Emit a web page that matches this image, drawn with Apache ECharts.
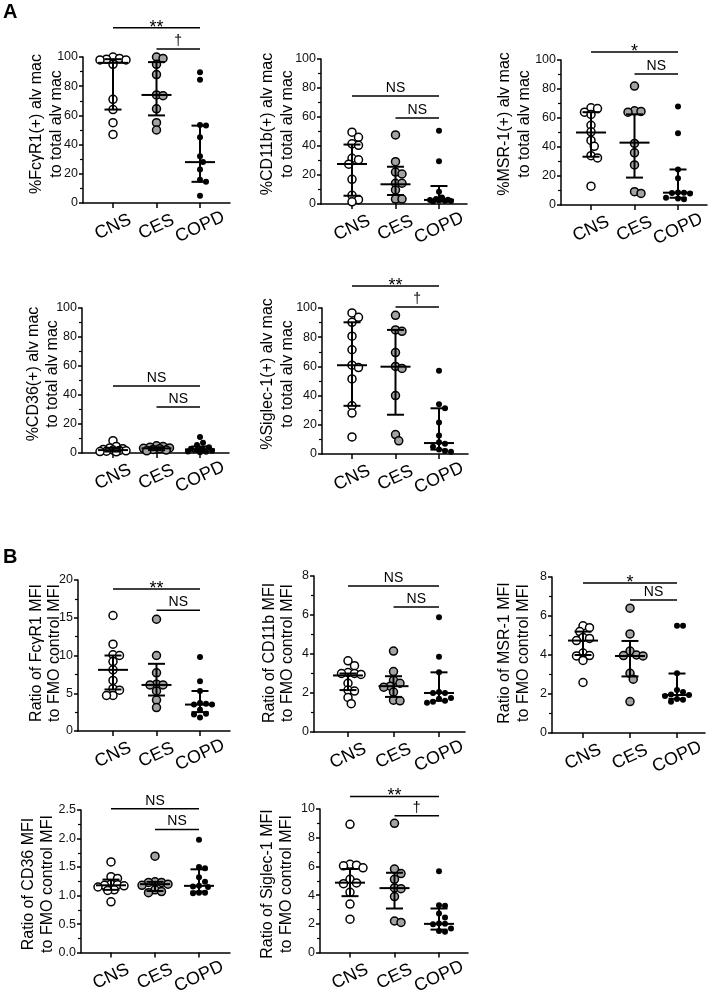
<!DOCTYPE html>
<html><head><meta charset="utf-8">
<script src="https://cdn.jsdelivr.net/npm/echarts@6/dist/echarts.min.js"></script>
<style>html,body{margin:0;padding:0;background:#fff}#c{width:709px;height:997px}</style>
</head><body><div id="c"></div>
<script>
const groups = ['CNS', 'CES', 'COPD'];

// ---- Panel A: % positive alveolar macrophages ----
const a1Title = ['%FcγR1(+) alv mac', 'to total alv mac'];
const a1CNS  = [100, 99, 98.5, 98, 98, 95, 71, 64, 55, 47];
const a1CES  = [100, 99, 95, 88, 74, 73.5, 64.5, 55, 50];
const a1COPD = [89.5, 84.5, 53.5, 53, 45, 32, 28, 23, 16, 14.5, 5];
const a1Median = [96, 74, 28], a1Q1 = [64, 60, 14.5], a1Q3 = [98.5, 96.5, 53];
const a1Bracket = [120, 105.5], a1Sig = ['**', '†'];

const a2Title = ['%CD11b(+) alv mac', 'to total alv mac'];
const a2CNS  = [49.5, 46, 41.5, 40.5, 31.5, 30.5, 27.5, 17, 6, 3, 1.5];
const a2CES  = [47.6, 29.2, 22, 20.7, 14.3, 14.3, 9.7, 3.4, 3.4];
const a2COPD = [50.5, 29.5, 8.5, 4.5, 3.5, 3, 2.8, 2.5, 2.2, 2, 1.8];
const a2Median = [27.6, 13.6, 2.8], a2Q1 = [5.7, 6.2, 1.8], a2Q3 = [41, 25.7, 12.4];
const a2Bracket = [74.5, 59.3], a2Sig = ['NS', 'NS'];

const a3Title = ['%MSR-1(+) alv mac', 'to total alv mac'];
const a3CNS  = [67, 66.5, 64, 62.5, 55, 50.5, 44.5, 40.5, 34, 32.5, 13];
const a3CES  = [82, 65, 64.5, 64, 42.5, 36, 27.6, 9.2, 8];
const a3COPD = [68, 49.4, 24.5, 18.4, 8.7, 8.5, 8.3, 8, 5, 4.5, 4];
const a3Median = [50, 43, 8.5], a3Q1 = [33.3, 18.9, 5], a3Q3 = [64, 62.5, 24.5];
const a3Bracket = [105.5, 90.3], a3Sig = ['*', 'NS'];

const a4Title = ['%CD36(+) alv mac', 'to total alv mac'];
const a4CNS  = [8.5, 4.5, 3.5, 3, 2.5, 2, 1.8, 1.5, 1.2, 1, 0.8];
const a4CES  = [5, 4.5, 4, 3.5, 3.2, 3, 2.5, 2, 1.5];
const a4COPD = [11, 7, 5.5, 4, 3, 2.5, 2, 1.5, 1, 0.8, 0.5];
const a4Median = [2, 3.2, 2.5], a4Q1 = [1, 2, 1], a4Q3 = [3.5, 4, 4.5];
const a4Bracket = [46.2, 31.7], a4Sig = ['NS', 'NS'];

const a5Title = ['%Siglec-1(+) alv mac', 'to total alv mac'];
const a5CNS  = [96.6, 93.6, 90.2, 80.7, 71.4, 60.8, 59.2, 51.4, 33, 28, 11.7];
const a5CES  = [95, 85, 84, 69.5, 60, 58.6, 40, 13.3, 9];
const a5COPD = [57, 34, 31.3, 21.6, 12.6, 8, 7, 5, 3, 2, 1.5];
const a5Median = [60.8, 59.8, 7.5], a5Q1 = [33, 26.9, 3], a5Q3 = [90.2, 85, 31.3];
const a5Bracket = [115, 100.7], a5Sig = ['**', '†'];

// ---- Panel B: MFI ratio to FMO control ----
const b1Title = ['Ratio of FcγR1 MFI', 'to FMO control MFI'];
const b1CNS  = [15.3, 11.5, 10.1, 10, 9.2, 8.1, 6.7, 5.6, 5.4, 4.7, 4.7];
const b1CES  = [14.8, 10, 7.7, 6.2, 6.1, 6.1, 5.3, 4.1, 3.1];
const b1COPD = [9.8, 6.6, 5.3, 3.7, 3.6, 3.5, 3.5, 2.8, 2.3, 2.2, 1.8];
const b1Median = [8.1, 6.1, 3.5], b1Q1 = [5.5, 4.7, 2.5], b1Q3 = [10, 8.9, 5.3];
const b1Bracket = [18.8, 16], b1Sig = ['**', 'NS'];

const b2Title = ['Ratio of CD11b MFI', 'to FMO control MFI'];
const b2CNS  = [3.65, 3.4, 3.05, 3.0, 3.0, 2.95, 2.5, 2.15, 2.1, 1.77, 1.45];
const b2CES  = [4.15, 3.1, 2.65, 2.5, 2.35, 2.3, 2.05, 1.63, 1.6];
const b2COPD = [5.88, 3.86, 3.06, 2.05, 2.0, 2.0, 1.75, 1.7, 1.6, 1.55, 1.5];
const b2Median = [2.9, 2.35, 2.0], b2Q1 = [2.15, 1.8, 1.6], b2Q3 = [3.0, 2.86, 3.06];
const b2Bracket = [7.49, 6.41], b2Sig = ['NS', 'NS'];

const b3Title = ['Ratio of MSR-1 MFI', 'to FMO control MFI'];
const b3CNS  = [5.5, 5.4, 5.2, 4.9, 4.85, 4.74, 4.1, 3.97, 3.95, 3.72, 2.59];
const b3CES  = [6.4, 5.08, 4.2, 4.0, 3.97, 3.95, 3.06, 2.76, 1.61];
const b3COPD = [5.5, 5.5, 3.07, 2.2, 2.1, 1.97, 1.95, 1.9, 1.75, 1.7, 1.6];
const b3Median = [4.74, 3.95, 1.95], b3Q1 = [4.0, 2.9, 1.75], b3Q3 = [5.2, 4.72, 3.05];
const b3Bracket = [7.69, 6.82], b3Sig = ['*', 'NS'];

const b4Title = ['Ratio of CD36 MFI', 'to FMO control MFI'];
const b4CNS  = [1.59, 1.33, 1.3, 1.2, 1.19, 1.18, 1.17, 1.15, 1.1, 1.09, 0.89];
const b4CES  = [1.69, 1.24, 1.23, 1.23, 1.2, 1.18, 1.1, 1.07, 1.05];
const b4COPD = [1.98, 1.5, 1.48, 1.32, 1.24, 1.17, 1.16, 1.15, 1.05, 1.05, 1.04];
const b4Median = [1.18, 1.2, 1.17], b4Q1 = [1.1, 1.08, 1.07], b4Q3 = [1.28, 1.24, 1.46];
const b4Bracket = [2.52, 2.16], b4Sig = ['NS', 'NS'];

const b5Title = ['Ratio of Siglec-1 MFI', 'to FMO control MFI'];
const b5CNS  = [8.93, 6.15, 6.09, 6.04, 5.9, 5.1, 4.85, 4.8, 4.2, 3.38, 2.33];
const b5CES  = [9.0, 5.82, 5.5, 5.1, 4.5, 4.45, 3.9, 2.2, 2.1];
const b5COPD = [5.67, 3.3, 3.27, 2.73, 2.44, 2.02, 2.0, 1.98, 1.67, 1.5, 1.45];
const b5Median = [4.87, 4.49, 2.0], b5Q1 = [3.93, 3.07, 1.6], b5Q3 = [5.82, 5.56, 3.07];
const b5Bracket = [10.87, 9.53], b5Sig = ['**', '†'];

// ---- assemble panels (data) ----
const panelData = [
  {t: a1Title, g: [a1CNS, a1CES, a1COPD], med: a1Median, q1: a1Q1, q3: a1Q3, br: a1Bracket, sig: a1Sig, ymax: 100, step: 20, dec: 0},
  {t: a2Title, g: [a2CNS, a2CES, a2COPD], med: a2Median, q1: a2Q1, q3: a2Q3, br: a2Bracket, sig: a2Sig, ymax: 100, step: 20, dec: 0},
  {t: a3Title, g: [a3CNS, a3CES, a3COPD], med: a3Median, q1: a3Q1, q3: a3Q3, br: a3Bracket, sig: a3Sig, ymax: 100, step: 20, dec: 0},
  {t: a4Title, g: [a4CNS, a4CES, a4COPD], med: a4Median, q1: a4Q1, q3: a4Q3, br: a4Bracket, sig: a4Sig, ymax: 100, step: 20, dec: 0},
  {t: a5Title, g: [a5CNS, a5CES, a5COPD], med: a5Median, q1: a5Q1, q3: a5Q3, br: a5Bracket, sig: a5Sig, ymax: 100, step: 20, dec: 0},
  {t: b1Title, g: [b1CNS, b1CES, b1COPD], med: b1Median, q1: b1Q1, q3: b1Q3, br: b1Bracket, sig: b1Sig, ymax: 20, step: 5, dec: 0},
  {t: b2Title, g: [b2CNS, b2CES, b2COPD], med: b2Median, q1: b2Q1, q3: b2Q3, br: b2Bracket, sig: b2Sig, ymax: 8, step: 2, dec: 0},
  {t: b3Title, g: [b3CNS, b3CES, b3COPD], med: b3Median, q1: b3Q1, q3: b3Q3, br: b3Bracket, sig: b3Sig, ymax: 8, step: 2, dec: 0},
  {t: b4Title, g: [b4CNS, b4CES, b4COPD], med: b4Median, q1: b4Q1, q3: b4Q3, br: b4Bracket, sig: b4Sig, ymax: 2.5, step: 0.5, dec: 1},
  {t: b5Title, g: [b5CNS, b5CES, b5COPD], med: b5Median, q1: b5Q1, q3: b5Q3, br: b5Bracket, sig: b5Sig, ymax: 10, step: 2, dec: 0}
];

// ---- layout (pixels): axis left, axis right, first cat x, last cat x, top, bottom, title line xs, title center y ----
const layout = [
  {L: 83,  R: 230, c1: 113, c3: 200, top: 57,  bot: 203, tx: [37, 57],   ty: 124},
  {L: 321, R: 467, c1: 352, c3: 439, top: 59,  bot: 204, tx: [268, 288], ty: 124},
  {L: 561, R: 707, c1: 591, c3: 678, top: 60,  bot: 205, tx: [505, 525], ty: 124},
  {L: 82,  R: 229, c1: 113, c3: 200, top: 308, bot: 453, tx: [34, 53],   ty: 374},
  {L: 322, R: 468, c1: 352, c3: 439, top: 308, bot: 454, tx: [268, 288], ty: 374},
  {L: 78,  R: 230, c1: 113, c3: 200, top: 580, bot: 731, tx: [37, 55],   ty: 653},
  {L: 314, R: 465, c1: 348, c3: 439, top: 576, bot: 732, tx: [270, 288], ty: 653},
  {L: 552, R: 705, c1: 583, c3: 677, top: 577, bot: 733, tx: [505, 524], ty: 653},
  {L: 81,  R: 230, c1: 111, c3: 199, top: 810, bot: 958, tx: [29, 48],   ty: 884},
  {L: 320, R: 468, c1: 350, c3: 439, top: 809, bot: 959, tx: [268, 287], ty: 884}
];

const FONT = '"Liberation Sans", Arial, Helvetica, sans-serif';
const groupStyle = [
  {color: '#ffffff', borderColor: '#000', borderWidth: 1.5, size: 8, dmin: 6.5},
  {color: '#a3a3a3', borderColor: '#000', borderWidth: 1.5, size: 8, dmin: 6.5},
  {color: '#000000', borderColor: '#000', borderWidth: 0, size: 6, dmin: 6}
];
const MAX_OFF = 14;

function swarm(vals, kx, ky, dmin) {
  const order = vals.map((v, i) => ({v, i})).sort((a, b) => b.v - a.v);
  const placed = [];
  const out = new Array(vals.length);
  const half = dmin * 0.5;
  const kmax = Math.floor(MAX_OFF / half);
  for (const p of order) {
    const py = -p.v * ky;
    let best = 0, bestD = -1, found = false;
    for (let k = 0; k <= 2 * kmax; k++) {
      const n = Math.ceil(k / 2);
      const off = (k === 0 ? 0 : (k % 2 ? n : -n)) * half;
      let md = Infinity;
      for (const q of placed) md = Math.min(md, Math.hypot(q[0] - off, q[1] - py));
      if (md >= dmin) { best = off; found = true; break; }
      if (md > bestD) { bestD = md; best = off; }
    }
    placed.push([best, py]);
    out[p.i] = best / kx;
  }
  return out;
}

const grid = [], xAxis = [], yAxis = [], series = [], graphic = [];

panelData.forEach((pd, i) => {
  const g = layout[i];
  const s = (g.c3 - g.c1) / 2;
  const xmin = 1 - (g.c1 - g.L) / s;
  const xmax = 3 + (g.R - g.c3) / s;
  const ky = (g.bot - g.top) / pd.ymax;
  grid.push({left: g.L, top: g.top, width: g.R - g.L, height: g.bot - g.top, containLabel: false});
  xAxis.push({
    gridIndex: i, type: 'value', min: xmin, max: xmax,
    axisLine: {show: true, lineStyle: {color: '#000', width: 1.5}},
    axisTick: {show: true, customValues: [1, 2, 3], length: 5, lineStyle: {color: '#000', width: 1.5}},
    axisLabel: {show: true, customValues: [1, 2, 3], formatter: v => groups[Math.round(v) - 1] || '',
      rotate: 25, align: 'center', verticalAlign: 'middle', margin: 24,
      fontSize: 18, color: '#000', fontFamily: FONT},
    splitLine: {show: false}, minorTick: {show: false}
  });
  yAxis.push({
    gridIndex: i, type: 'value', min: 0, max: pd.ymax, interval: pd.step,
    axisLine: {show: true, lineStyle: {color: '#000', width: 1.5}},
    axisTick: {show: true, length: 4, lineStyle: {color: '#000', width: 1.5}},
    minorTick: {show: true, splitNumber: 2, length: 3, lineStyle: {color: '#000', width: 1.2}},
    axisLabel: {fontSize: 12.5, color: '#111', margin: 5, fontFamily: FONT, formatter: v => v.toFixed(pd.dec)},
    splitLine: {show: false}
  });
  pd.g.forEach((vals, gi) => {
    const st = groupStyle[gi];
    const off = swarm(vals, s, ky, st.dmin);
    series.push({
      type: 'scatter', xAxisIndex: i, yAxisIndex: i, symbol: 'circle', symbolSize: st.size,
      data: vals.map((v, k) => [gi + 1 + off[k], v]),
      itemStyle: {color: st.color, borderColor: st.borderColor, borderWidth: st.borderWidth, opacity: 1},
      emphasis: {disabled: true}, silent: true, z: 2
    });
  });
  series.push({
    type: 'custom', xAxisIndex: i, yAxisIndex: i, clip: false, silent: true, z: 3,
    encode: {x: 0, y: [1, 2, 3]},
    data: groups.map((_, gi) => [gi + 1, pd.med[gi], pd.q1[gi], pd.q3[gi]]),
    renderItem: (params, api) => {
      const x = api.value(0);
      const pm = api.coord([x, api.value(1)]);
      const pl = api.coord([x, api.value(2)]);
      const ph = api.coord([x, api.value(3)]);
      const st = {stroke: '#000', lineWidth: 2};
      return {type: 'group', children: [
        {type: 'line', shape: {x1: pm[0], y1: pl[1], x2: pm[0], y2: ph[1]}, style: st},
        {type: 'line', shape: {x1: pm[0] - 15, y1: pm[1], x2: pm[0] + 15, y2: pm[1]}, style: st},
        {type: 'line', shape: {x1: pm[0] - 8.5, y1: pl[1], x2: pm[0] + 8.5, y2: pl[1]}, style: st},
        {type: 'line', shape: {x1: pm[0] - 8.5, y1: ph[1], x2: pm[0] + 8.5, y2: ph[1]}, style: st}
      ]};
    }
  });
  const sigs = pd.sig;
  series.push({
    type: 'custom', xAxisIndex: i, yAxisIndex: i, clip: false, silent: true, z: 3,
    encode: {x: [0, 1], y: 2},
    data: [[1, 3, pd.br[0]], [2, 3, pd.br[1]]],
    renderItem: (params, api) => {
      const a = api.coord([api.value(0), api.value(2)]);
      const b = api.coord([api.value(1), api.value(2)]);
      const txt = sigs[params.dataIndex];
      const star = txt.indexOf('*') >= 0;
      return {type: 'group', children: [
        {type: 'line', shape: {x1: a[0], y1: a[1], x2: b[0], y2: b[1]}, style: {stroke: '#000', lineWidth: 1.5}},
        {type: 'text', x: (a[0] + b[0]) / 2, y: star ? a[1] : a[1] - 1,
          style: {text: txt, textAlign: 'center', textVerticalAlign: star ? 'middle' : 'bottom',
            font: (star ? '18px ' : '14px ') + FONT, fill: '#000'}}
      ]};
    }
  });
  pd.t.forEach((line, li) => {
    graphic.push({type: 'text', x: g.tx[li], y: g.ty, rotation: Math.PI / 2, silent: true,
      style: {text: line, textAlign: 'center', textVerticalAlign: 'middle', font: '16px ' + FONT, fill: '#000'}});
  });
});

graphic.push({type: 'text', left: 3, top: 2, style: {text: 'A', font: 'bold 20px ' + FONT, fill: '#000'}});
graphic.push({type: 'text', left: 3, top: 547, style: {text: 'B', font: 'bold 20px ' + FONT, fill: '#000'}});

const chart = echarts.init(document.getElementById('c'), null, {renderer: 'canvas'});
chart.setOption({
  animation: false, backgroundColor: '#fff',
  textStyle: {fontFamily: FONT},
  grid, xAxis, yAxis, series, graphic
});
</script>
</body></html>
